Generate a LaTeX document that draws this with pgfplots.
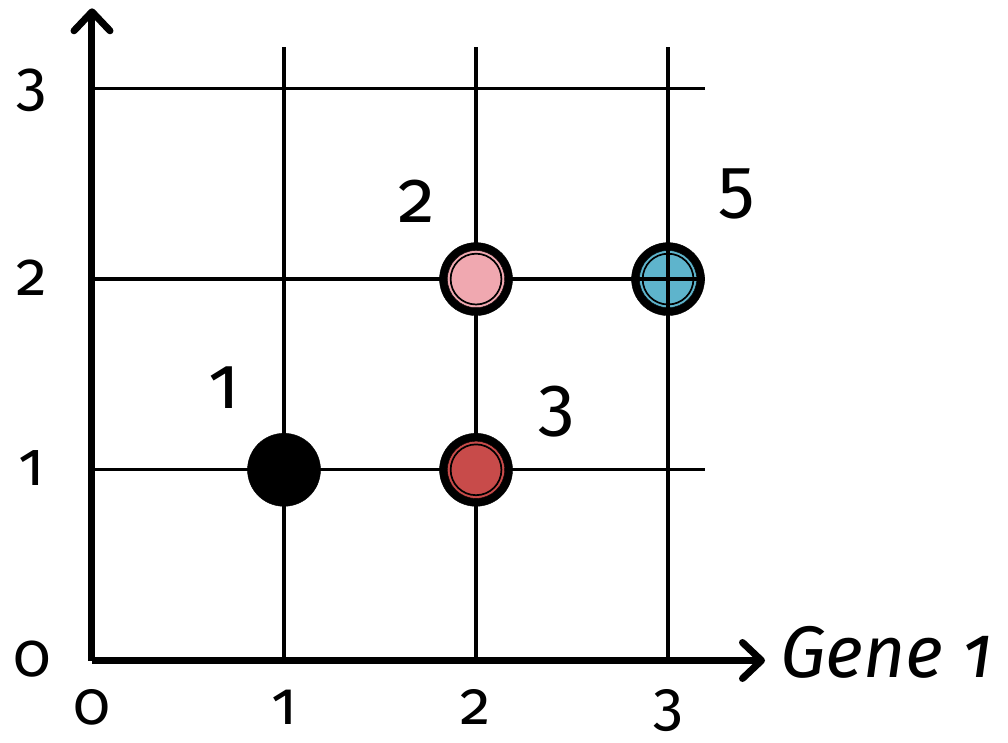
\documentclass[border=0pt]{standalone}
\usepackage{fontspec}
\setmainfont{Fira Sans}[Numbers=OldStyle]
\usepackage{pgfplots}
\pgfplotsset{compat=1.18}
\usetikzlibrary{arrows.meta}
\definecolor{pinkc}{RGB}{240,168,176}
\definecolor{redc}{RGB}{200,75,74}
\definecolor{bluec}{RGB}{94,180,204}
\begin{document}
\begin{tikzpicture}
\useasboundingbox (-92pt,-81.5pt) rectangle (916pt,660.5pt);
\begin{axis}[
 at={(0,0)}, anchor=origin,
 scale only axis, width=673pt, height=652.2pt,
 xmin=0, xmax=3.505, ymin=0, ymax=3.42,
 axis lines=left,
 axis line style={line width=7pt, -{Straight Barb[length=19pt,width=36pt,line cap=round,line join=round]}},
 clip=false,
 xtick={0,1,2,3}, ytick={0,1,2,3},
 xticklabels={0,1,2,3}, yticklabels={0,1,2,3},
 major tick length=0pt,
 tick style={draw=none},
 xticklabel style={anchor=base, inner sep=0pt, yshift=-64pt, font=\fontsize{61}{70}\selectfont},
 yticklabel style={anchor=base, inner sep=0pt, xshift=-60pt, yshift=-16pt, font=\fontsize{62}{70}\selectfont},
]
% grid lines
\addplot[line width=3.4pt, black, forget plot] coordinates {(1,0) (1,3.217)};
\addplot[line width=3.4pt, black, forget plot] coordinates {(2,0) (2,3.217)};
\addplot[line width=3.4pt, black, forget plot] coordinates {(3,0) (3,3.217)};
\addplot[line width=3.4pt, black, forget plot] coordinates {(0,1) (3.19,1)};
\addplot[line width=3.4pt, black, forget plot] coordinates {(0,2) (3.19,2)};
\addplot[line width=3.4pt, black, forget plot] coordinates {(-0.015,3) (3.19,3)};
% markers: outer black
\addplot[only marks, mark=*, mark size=36.5pt, mark options={fill=black, draw=none}] coordinates {(1,1) (2,1) (2,2) (3,2)};
% coloured rings
\addplot[only marks, mark=*, mark size=28.6pt, mark options={fill=pinkc, draw=none}] coordinates {(2,2)};
\addplot[only marks, mark=*, mark size=28.6pt, mark options={fill=redc, draw=none}] coordinates {(2,1)};
\addplot[only marks, mark=*, mark size=28.6pt, mark options={fill=bluec, draw=none}] coordinates {(3,2)};
% inner thin black line with fill
\addplot[only marks, mark=*, mark size=25.4pt, mark options={fill=pinkc, draw=black, line width=1.7pt}] coordinates {(2,2)};
\addplot[only marks, mark=*, mark size=25.4pt, mark options={fill=redc, draw=black, line width=1.7pt}] coordinates {(2,1)};
\addplot[only marks, mark=*, mark size=25.4pt, mark options={fill=bluec, draw=black, line width=1.7pt}] coordinates {(3,2)};
% grid cross over the blue point
\addplot[only marks, mark=+, mark size=36pt, mark options={draw=black, line width=3.4pt}] coordinates {(3,2)};
% point labels
\node[anchor=base, inner sep=0pt, font=\fontsize{74}{80}\selectfont] at (axis cs:0.6875,1.324) {1};
\node[anchor=base, inner sep=0pt, font=\fontsize{74}{80}\selectfont] at (axis cs:1.693,2.299) {2};
\node[anchor=base, inner sep=0pt, font=\fontsize{74}{80}\selectfont] at (axis cs:2.417,1.219) {3};
\node[anchor=base, inner sep=0pt, font=\fontsize{74}{80}\selectfont] at (axis cs:3.359,2.362) {5};
% axis label
\node[anchor=base west, inner sep=0pt, font=\itshape\fontsize{73}{80}\selectfont] at (axis cs:3.583,0) [yshift=-16.5pt] {Gene 1};
\end{axis}
\end{tikzpicture}
\end{document}
